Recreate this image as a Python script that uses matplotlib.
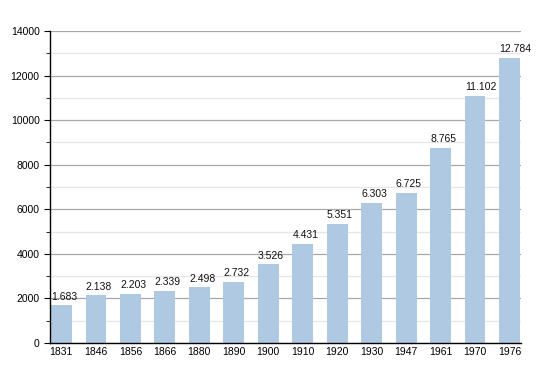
import matplotlib
matplotlib.use("Agg")
import matplotlib.pyplot as plt
from matplotlib.ticker import MultipleLocator

plt.rcParams['font.family'] = ['Liberation Sans', 'DejaVu Sans']

years = ["1831", "1846", "1856", "1866", "1880", "1890", "1900", "1910", "1920", "1930", "1947", "1961", "1970", "1976"]
population = [1683, 2138, 2203, 2339, 2498, 2732, 3526, 4431, 5351, 6303, 6725, 8765, 11102, 12784]
labels = ["1.683", "2.138", "2.203", "2.339", "2.498", "2.732", "3.526", "4.431", "5.351", "6.303", "6.725", "8.765", "11.102", "12.784"]

fig = plt.figure(figsize=(5.5, 3.73), dpi=100)
ax = fig.add_axes([50/550, 30/373, 471/550, 312/373])

x = list(range(len(years)))
w = 0.6
ax.bar(x, population, width=w, color="#b0c9e3", zorder=2)
for xi, v, lab in zip(x, population, labels):
    ax.text(xi - w/2, v + 170, lab, ha="left", va="bottom", fontsize=7.5, color="#111111", zorder=5)

ax.set_ylim(0, 14000)
ax.set_xlim(-0.33, 13.33)
ax.yaxis.set_major_locator(MultipleLocator(2000))
ax.yaxis.set_minor_locator(MultipleLocator(1000))
ax.grid(axis="y", which="major", color="#a8a8a8", linewidth=0.9, zorder=0)
ax.grid(axis="y", which="minor", color="#e6e6e6", linewidth=0.9, zorder=0)
ax.set_xticks(x)
ax.set_xticklabels(years)
ax.tick_params(axis="x", length=0, labelsize=7.5, pad=3)
ax.tick_params(axis="y", which="major", length=4, labelsize=7.5, direction="out")
ax.tick_params(axis="y", which="minor", length=3, direction="out")
for s in ["top", "right"]:
    ax.spines[s].set_visible(False)
ax.spines["left"].set_linewidth(1)
ax.spines["bottom"].set_linewidth(1)

fig.savefig("out.png", dpi=100)
